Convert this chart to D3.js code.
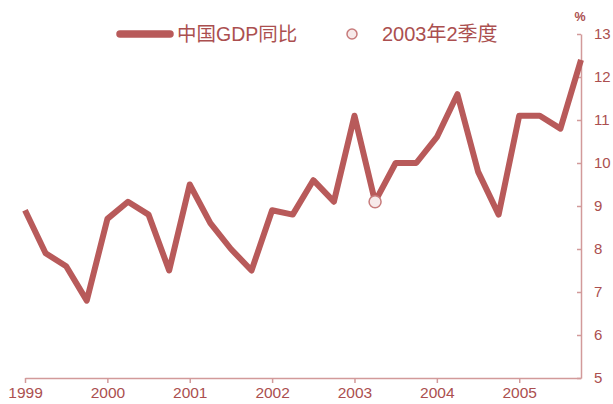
<!DOCTYPE html>
<html>
<head>
<meta charset="utf-8">
<script src="https://cdn.jsdelivr.net/npm/d3@7"></script>
<style>
  html, body { margin: 0; padding: 0; background: #fff; }
  svg { display: block; }
  text { font-family: "Liberation Sans", Arial, "Noto Sans CJK SC", sans-serif; }
</style>
</head>
<body>
<svg id="chart" width="613" height="404"></svg>
<script>
// Quarterly year-on-year GDP growth, 1999Q1 – 2005Q4 (%)
const years = ["1999", "2000", "2001", "2002", "2003", "2004", "2005"];
const quarters = ["Q1", "Q2", "Q3", "Q4"];
const gdpYoY = [
  8.9, 7.9, 7.6, 6.8,
  8.7, 9.1, 8.8, 7.5,
  9.5, 8.6, 8.0, 7.5,
  8.9, 8.8, 9.6, 9.1,
  11.1, 9.1, 10.0, 10.0,
  10.6, 11.6, 9.8, 8.8,
  11.1, 11.1, 10.8, 12.4
];
const yTicks = [5, 6, 7, 8, 9, 10, 11, 12, 13];
const highlightIndex = 17; // 2003 Q2
const seriesLabel = "中国GDP同比";
const highlightLabel = "2003年2季度";

const lineColor = "#b85a5a";
const axisColor = "#d29a9a";
const textColor = "#ab4f4f";

const svg = d3.select("#chart");
const plotLeft = 25, plotRight = 581, plotTop = 34, plotBottom = 378;

const x = d3.scaleLinear().domain([0, gdpYoY.length - 1]).range([plotLeft, plotRight]);
const y = d3.scaleLinear().domain([5, 13]).range([plotBottom, plotTop]);

// x axis: one tick per year, at each first quarter
const xAxis = d3.axisBottom(x)
  .tickValues(years.map((_, i) => i * quarters.length))
  .tickFormat((d) => years[d / quarters.length])
  .tickSize(5)
  .tickSizeOuter(0);

const gx = svg.append("g").attr("transform", `translate(0,${plotBottom})`).call(xAxis);
gx.select(".domain").attr("stroke", axisColor).attr("stroke-width", 1.5);
gx.selectAll(".tick line").attr("stroke", axisColor).attr("stroke-width", 1.5).attr("y1", 0).attr("y2", 5);
gx.selectAll(".tick text")
  .attr("fill", textColor)
  .attr("font-size", 15.5)
  .attr("dy", "0.9em")
  .attr("y", 6);

// y axis on the right, ticks pointing left, labels to the right
const yAxis = d3.axisRight(y).tickValues(yTicks).tickSize(0).tickSizeOuter(0);
const gy = svg.append("g").attr("transform", `translate(${plotRight},0)`).call(yAxis);
gy.select(".domain").attr("stroke", axisColor).attr("stroke-width", 1.5);
gy.selectAll(".tick line").attr("stroke", axisColor).attr("stroke-width", 1.5).attr("x1", -4).attr("x2", 0);
gy.selectAll(".tick text")
  .attr("fill", textColor)
  .attr("font-size", 15)
  .attr("x", 13);

svg.append("text")
  .attr("x", plotRight - 1).attr("y", 21)
  .attr("text-anchor", "middle")
  .attr("fill", textColor)
  .attr("font-size", 12.5)
  .attr("font-weight", "bold")
  .text("%");

// growth line
const line = d3.line().x((d, i) => x(i)).y((d) => y(d));
svg.append("path")
  .datum(gdpYoY)
  .attr("fill", "none")
  .attr("stroke", lineColor)
  .attr("stroke-width", 6)
  .attr("stroke-linejoin", "round")
  .attr("stroke-linecap", "butt")
  .attr("d", line);

// highlighted quarter
svg.append("circle")
  .attr("cx", x(highlightIndex))
  .attr("cy", y(gdpYoY[highlightIndex]))
  .attr("r", 6)
  .attr("fill", "#f7eaea")
  .attr("stroke", "#c77b7b")
  .attr("stroke-width", 1.5);

// legend
const legend = svg.append("g");
legend.append("line")
  .attr("x1", 120).attr("x2", 170).attr("y1", 34).attr("y2", 34)
  .attr("stroke", lineColor).attr("stroke-width", 7.5).attr("stroke-linecap", "round");
legend.append("text")
  .attr("x", 177).attr("y", 41)
  .attr("fill", textColor)
  .attr("font-size", 19.5)
  .text(seriesLabel);
legend.append("circle")
  .attr("cx", 352).attr("cy", 34).attr("r", 5)
  .attr("fill", "#f7eaea")
  .attr("stroke", "#c77b7b")
  .attr("stroke-width", 1.5);
legend.append("text")
  .attr("x", 382).attr("y", 41)
  .attr("fill", textColor)
  .attr("font-size", 20)
  .text(highlightLabel);
</script>
</body>
</html>
